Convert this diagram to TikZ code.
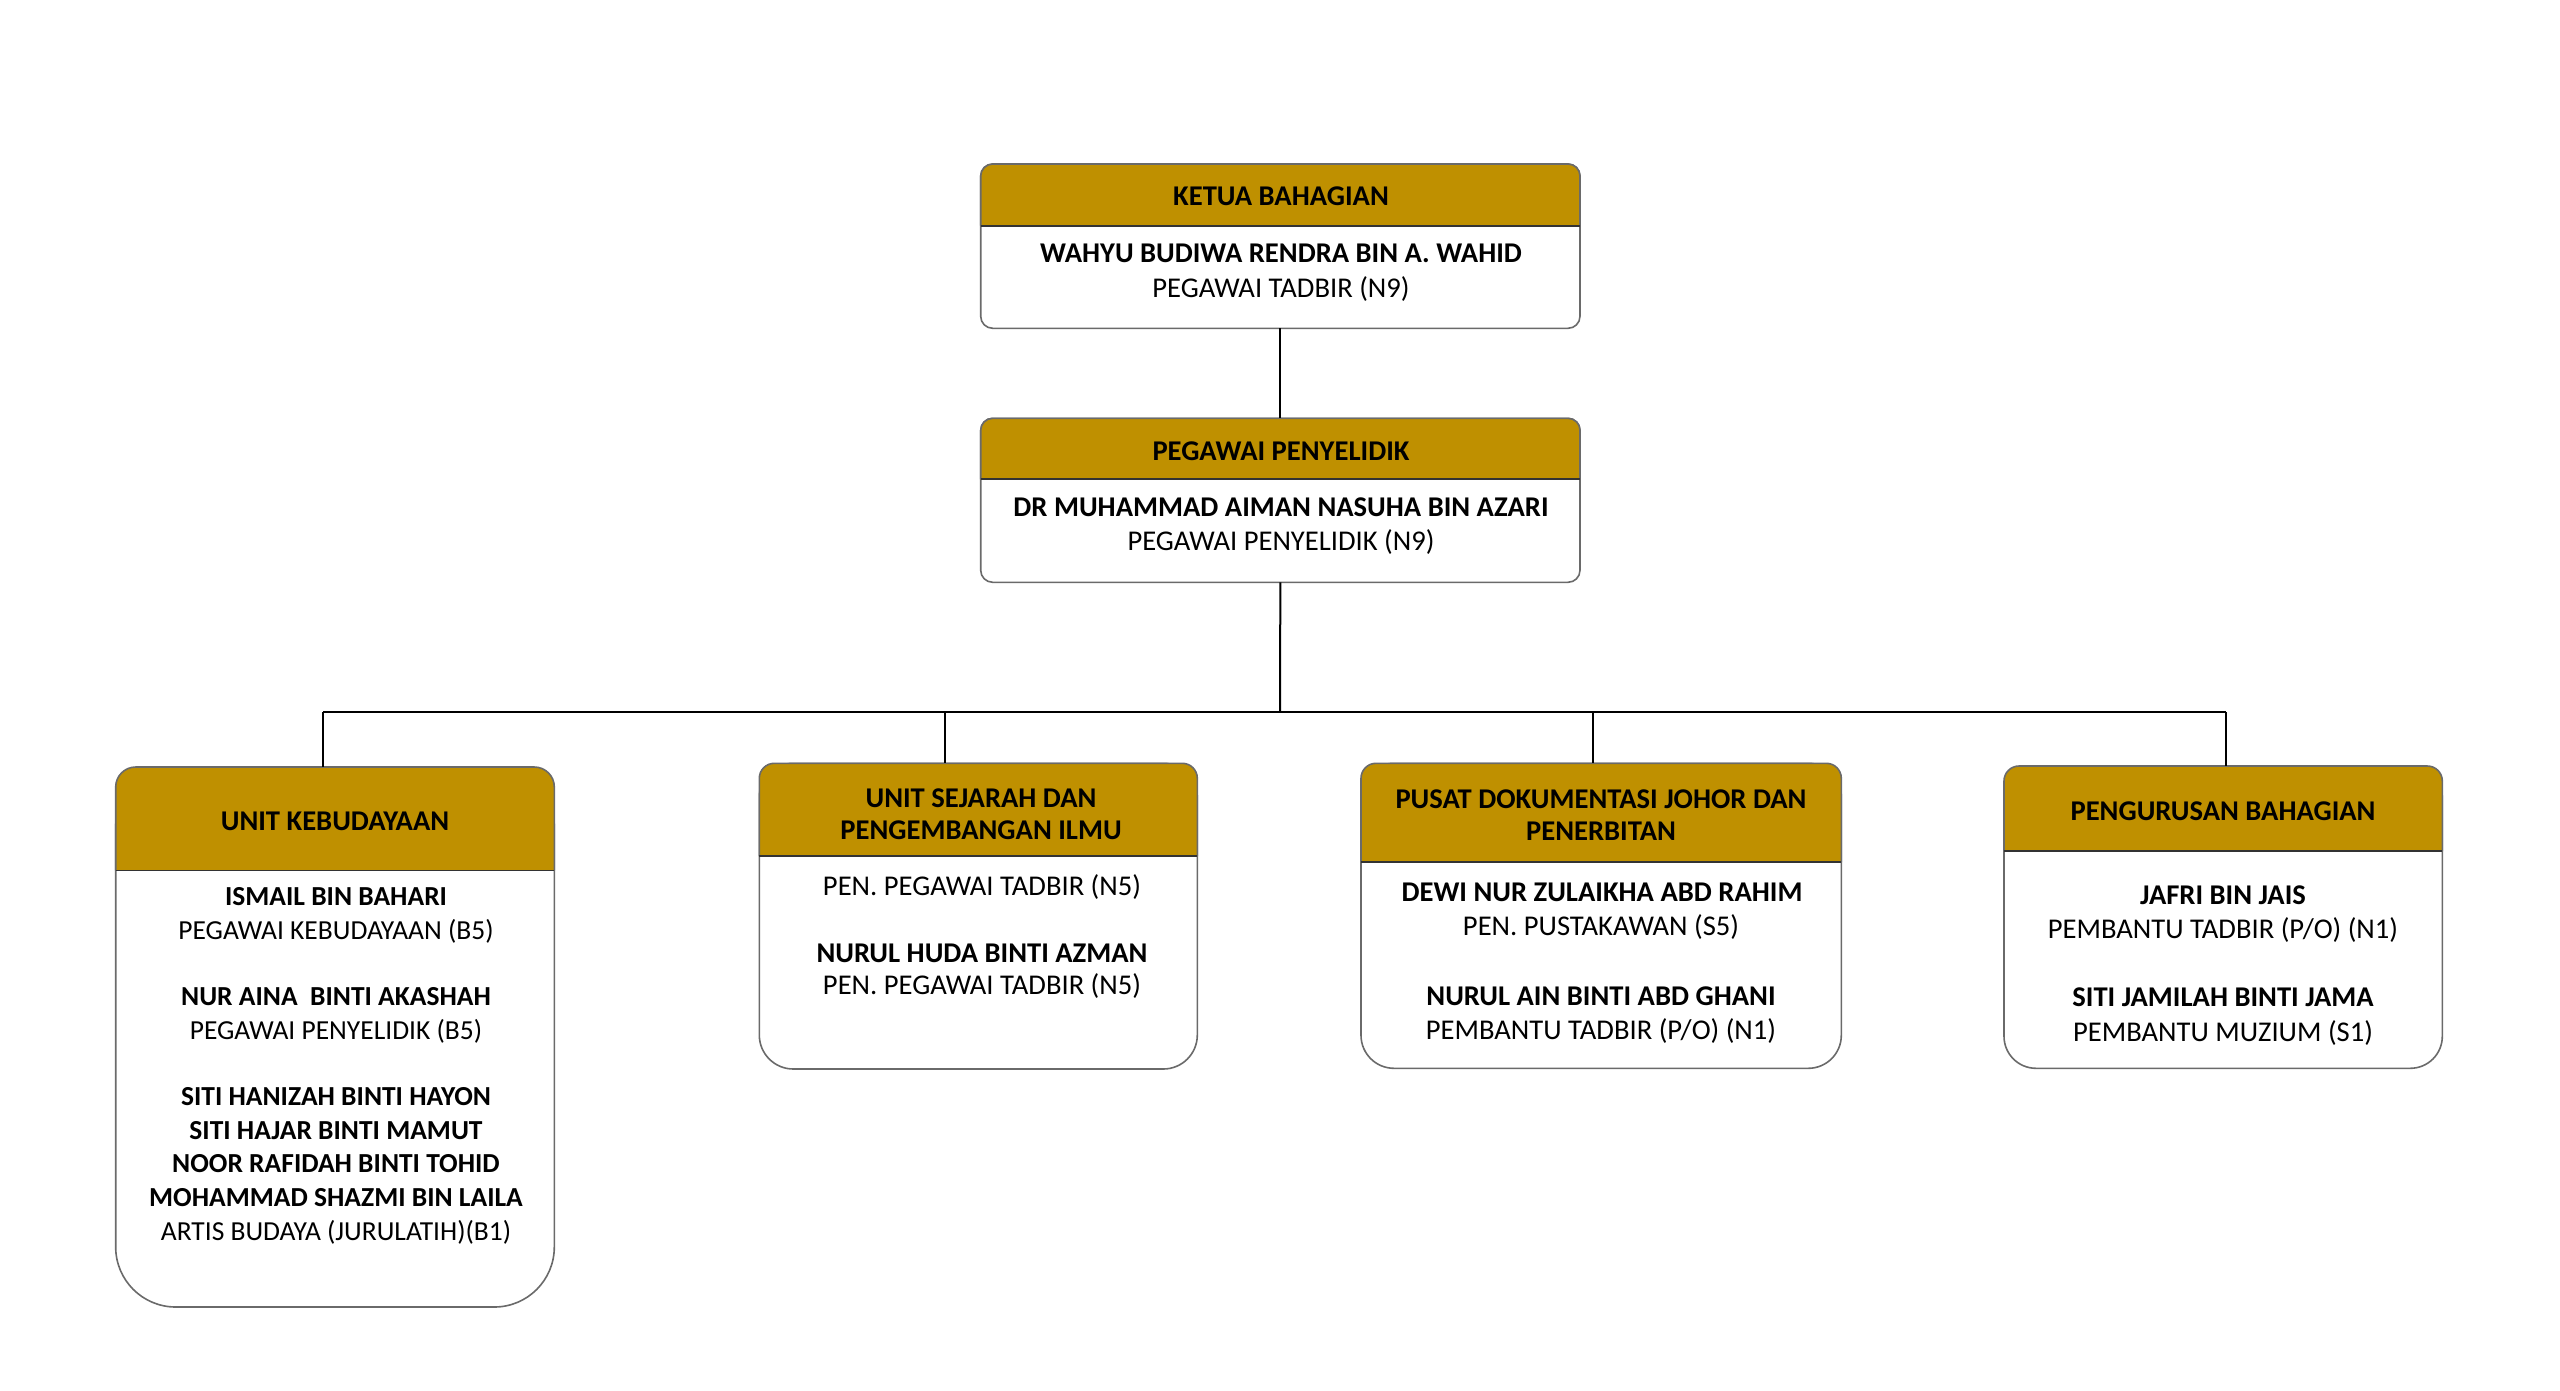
\documentclass[tikz,border=0pt]{standalone}
\usepackage{fontspec}
\setmainfont{Carlito}
\usetikzlibrary{calc}
\definecolor{gold}{HTML}{BF9000}
\definecolor{bordergray}{HTML}{6A6A6A}
\tikzset{
  shapebox/.style={draw=none, inner sep=0pt, outer sep=0pt},
  txt/.style={anchor=base, inner sep=0pt, font=\fontsize{28.6}{34}\selectfont},
  btxt/.style={anchor=base, inner sep=0pt, font=\fontsize{28.6}{34}\selectfont\bfseries},
  stxt/.style={anchor=base, inner sep=0pt, font=\fontsize{27.5}{34}\selectfont},
  sbtxt/.style={anchor=base, inner sep=0pt, font=\fontsize{27.5}{34}\selectfont\bfseries},
  conn/.style={draw=black, line width=2pt},
  outline/.style={draw=bordergray, line width=1.6pt},
  divider/.style={draw=black!80, line width=1.8pt},
}
% #1 node, #2 header height, #3 top radius, #4 bottom radius
\newcommand\orgshape[4]{%
  \filldraw[fill=white, outline, rounded corners=#4] (#1.north west) rectangle (#1.south east);
  \fill[gold, rounded corners=#3] (#1.north west) rectangle ($(#1.north east)+(0,#2)$);
  \fill[gold] ($(#1.north west)+(0,#3)$) rectangle ($(#1.north east)+(0,#2)$);
  \draw[outline, rounded corners=#3] ($(#1.north west)+(0,#2)$) -- (#1.north west) -- (#1.north east) -- ($(#1.north east)+(0,#2)$);
  \draw[divider] ($(#1.north west)+(0,#2)$) -- ($(#1.north east)+(0,#2)$);
}
\begin{document}
\begin{tikzpicture}[x=1pt,y=-1pt]
\fill[white] (0,0) rectangle (2560,1390);
\useasboundingbox (0,0) rectangle (2560,1390);

% shape nodes
\node[shapebox, minimum width=599.3pt, minimum height=164.3pt] (t1) at (1280.35,246.15) {};
\node[shapebox, minimum width=599.3pt, minimum height=164pt] (t2) at (1280.35,500.3) {};
\node[shapebox, minimum width=438.6pt, minimum height=540pt] (u1) at (335,1037) {};
\node[shapebox, minimum width=438pt, minimum height=305.7pt] (u2) at (978.3,916.15) {};
\node[shapebox, minimum width=480.3pt, minimum height=305pt] (u3) at (1601.15,915.8) {};
\node[shapebox, minimum width=438.3pt, minimum height=302.3pt] (u4) at (2223.15,917.15) {};

\orgshape{t1}{61.7}{12}{12}
\orgshape{t2}{61}{12}{12}
\orgshape{u1}{103.4}{20}{60}
\orgshape{u2}{92.7}{15}{34}
\orgshape{u3}{99}{15}{33}
\orgshape{u4}{85}{15}{32}

% connectors
\coordinate (busc) at (1280,712);
\coordinate (b1) at (323,712);
\coordinate (b2) at (945,712);
\coordinate (b3) at (1593,712);
\coordinate (b4) at (2226,712);
\draw[conn] (t1.south) -- (t2.north);
\draw[conn] (t2.south) -- (busc);
\draw[conn] (b1) -- (b4);
\draw[conn] (b1) -- (b1 |- u1.north);
\draw[conn] (b2) -- (b2 |- u2.north);
\draw[conn] (b3) -- (b3 |- u3.north);
\draw[conn] (b4) -- (b4 |- u4.north);

% top box texts
\node[btxt] (t1h) at (1281,205.6) {KETUA BAHAGIAN};
\node[btxt] (t1a) at (1281,262.3) {WAHYU BUDIWA RENDRA BIN A. WAHID};
\node[txt]  (t1b) at (1281,297.3) {PEGAWAI TADBIR (N9)};

\node[btxt] (t2h) at (1281,460.7) {PEGAWAI PENYELIDIK};
\node[btxt] (t2a) at (1281,516.3) {DR MUHAMMAD AIMAN NASUHA BIN AZARI};
\node[txt]  (t2b) at (1281,550.7) {PEGAWAI PENYELIDIK (N9)};

% unit 1
\node[btxt]  (u1h) at (335,830) {UNIT KEBUDAYAAN};
\node[sbtxt] (u1a) at (336,905.7) {ISMAIL BIN BAHARI};
\node[stxt]  (u1b) at (336,939.7) {PEGAWAI KEBUDAYAAN (B5)};
\node[sbtxt] (u1c) at (336,1005.7) {NUR AINA~ BINTI AKASHAH};
\node[stxt]  (u1d) at (336,1039.7) {PEGAWAI PENYELIDIK (B5)};
\node[sbtxt] (u1e) at (336,1105.7) {SITI HANIZAH BINTI HAYON};
\node[sbtxt] (u1f) at (336,1139.7) {SITI HAJAR BINTI MAMUT};
\node[sbtxt] (u1g) at (336,1172.7) {NOOR RAFIDAH BINTI TOHID};
\node[sbtxt] (u1i) at (336,1206.7) {MOHAMMAD SHAZMI BIN LAILA};
\node[stxt]  (u1j) at (336,1240.7) {ARTIS BUDAYA (JURULATIH)(B1)};

% unit 2
\node[btxt] (u2h) at (981,807) {UNIT SEJARAH DAN};
\node[btxt] (u2k) at (981,839) {PENGEMBANGAN ILMU};
\node[txt]  (u2a) at (982,895) {PEN. PEGAWAI TADBIR (N5)};
\node[btxt] (u2b) at (982,962) {NURUL HUDA BINTI AZMAN};
\node[txt]  (u2c) at (982,994) {PEN. PEGAWAI TADBIR (N5)};

% unit 3
\node[btxt] (u3h) at (1601,808.3) {PUSAT DOKUMENTASI JOHOR DAN};
\node[btxt] (u3k) at (1601,840.7) {PENERBITAN};
\node[btxt] (u3a) at (1602,901.3) {DEWI NUR ZULAIKHA ABD RAHIM};
\node[txt]  (u3b) at (1601,935.7) {PEN. PUSTAKAWAN (S5)};
\node[btxt] (u3c) at (1601,1005) {NURUL AIN BINTI ABD GHANI};
\node[txt]  (u3d) at (1601,1039) {PEMBANTU TADBIR (P/O) (N1)};

% unit 4
\node[btxt] (u4h) at (2223,820.7) {PENGURUSAN BAHAGIAN};
\node[btxt] (u4a) at (2223,904) {JAFRI BIN JAIS};
\node[txt]  (u4b) at (2223,938.3) {PEMBANTU TADBIR (P/O) (N1)};
\node[btxt] (u4c) at (2223,1006.7) {SITI JAMILAH BINTI JAMA};
\node[txt]  (u4d) at (2223,1041.3) {PEMBANTU MUZIUM (S1)};
\end{tikzpicture}
\end{document}
